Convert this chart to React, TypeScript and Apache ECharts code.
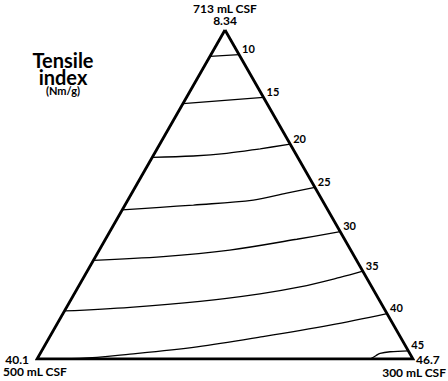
import React, { useEffect, useRef } from "react";
import * as echarts from "echarts";

// Ternary vertices: top, bottom-left, bottom-right
const vertexNames = ["713 mL CSF", "500 mL CSF", "300 mL CSF"];
const vertexValues = ["8.34", "40.1", "46.7"];

// Contour levels of tensile index (Nm/g)
const contourLevels = [10, 15, 20, 25, 30, 35, 40, 45];

// Each contour point: [% of 713 mL CSF (top), % of 300 mL CSF (bottom-right)]
const contour10 = [[92.0, 0], [92.5, 7.5]];
const contour15 = [[77.6, 0], [79.5, 20.5]];
const contour20 = [[61.3, 0], [61.7, 10.7], [62.5, 19.2], [63.9, 27.4], [65.3, 34.7]];
const contour25 = [[45.3, 0], [46.1, 9.7], [46.8, 18.2], [48.3, 33.4], [50.4, 41.2], [52.2, 47.8]];
const contour30 = [[30.0, 0], [31.1, 18.0], [33.1, 34.7], [36.4, 50.9], [38.7, 61.3]];
const contour35 = [[14.6, 0], [15.7, 16.9], [17.5, 34.6], [19.8, 49.4], [21.9, 59.0], [24.8, 68.2], [26.7, 73.3]];
const contour40 = [[0, 0], [0.2, 11.3], [1.5, 24.0], [3.7, 40.7], [6.8, 56.7], [10.3, 72.8], [13.8, 86.2]];
const contour45 = [[0, 88.6], [1.0, 89.6], [1.7, 90.4], [2.2, 92.8], [2.5, 97.5]];

const contours = [contour10, contour15, contour20, contour25, contour30, contour35, contour40, contour45];

// Outline in ternary form: top, bottom-left, bottom-right, top
const outline = [[100, 0], [0, 0], [0, 100], [100, 0]];

const FONT = "Lato, 'Open Sans', sans-serif";

function toXY(p: number[]): number[] {
  const a = p[0];
  const c = p[1];
  return [c + a / 2, a];
}

export default function App() {
  const ref = useRef<HTMLDivElement>(null);
  useEffect(() => {
    document.body.style.margin = "0";
    if (!ref.current) return;
    const chart = echarts.init(ref.current, null, { renderer: "svg" });

    const contourSeries = contours.map((pts, i) => ({
      type: "line",
      data: pts.map(toXY),
      smooth: 0.35,
      symbol: "none",
      lineStyle: { color: "#000", width: 1.3 },
      endLabel: {
        show: true,
        formatter: String(contourLevels[i]),
        color: "#000",
        fontFamily: FONT,
        fontWeight: "bold",
        fontSize: 11,
        distance: 3,
        offset: [0, -6],
      },
      silent: true,
      z: 2,
    }));

    const base = { fontFamily: FONT, fontWeight: "bold", fill: "#000" };
    const txt = (text: string, x: number, y: number, size: number, align: string) => ({
      type: "text",
      x,
      y,
      style: { ...base, text, fontSize: size, lineHeight: size, align, verticalAlign: "middle" },
    });

    chart.setOption({
      animation: false,
      backgroundColor: "#fff",
      grid: { left: 37, right: 35, top: 30, bottom: 22 },
      xAxis: { type: "value", min: 0, max: 100, show: false },
      yAxis: { type: "value", min: 0, max: 100, show: false },
      series: [
        {
          type: "line",
          data: outline.map(toXY),
          symbol: "none",
          lineStyle: { color: "#000", width: 2.8, join: "miter" },
          silent: true,
          z: 3,
        },
        ...contourSeries,
      ],
      graphic: [
        txt(vertexNames[0], 225, 8, 12, "center"),
        txt(vertexValues[0], 225, 20, 12, "center"),
        txt(vertexValues[1], 29, 359, 12, "right"),
        txt(vertexNames[1], 3, 371.5, 12, "left"),
        txt(vertexValues[2], 416, 359.5, 12, "left"),
        txt(vertexNames[2], 446, 372, 12, "right"),
        {
          type: "text",
          x: 63,
          y: 51,
          style: {
            ...base,
            text: "{t|Tensile}\n{i|index}\n{s|(Nm/g)}",
            align: "center",
            verticalAlign: "top",
            rich: {
              t: { ...base, fontSize: 20, lineHeight: 18, align: "center" },
              i: { ...base, fontSize: 20, lineHeight: 16, align: "center" },
              s: { ...base, fontSize: 11, lineHeight: 10, align: "center" },
            },
          },
        },
      ],
    });
    return () => chart.dispose();
  }, []);
  return <div ref={ref} style={{ width: 448, height: 381 }} />;
}
